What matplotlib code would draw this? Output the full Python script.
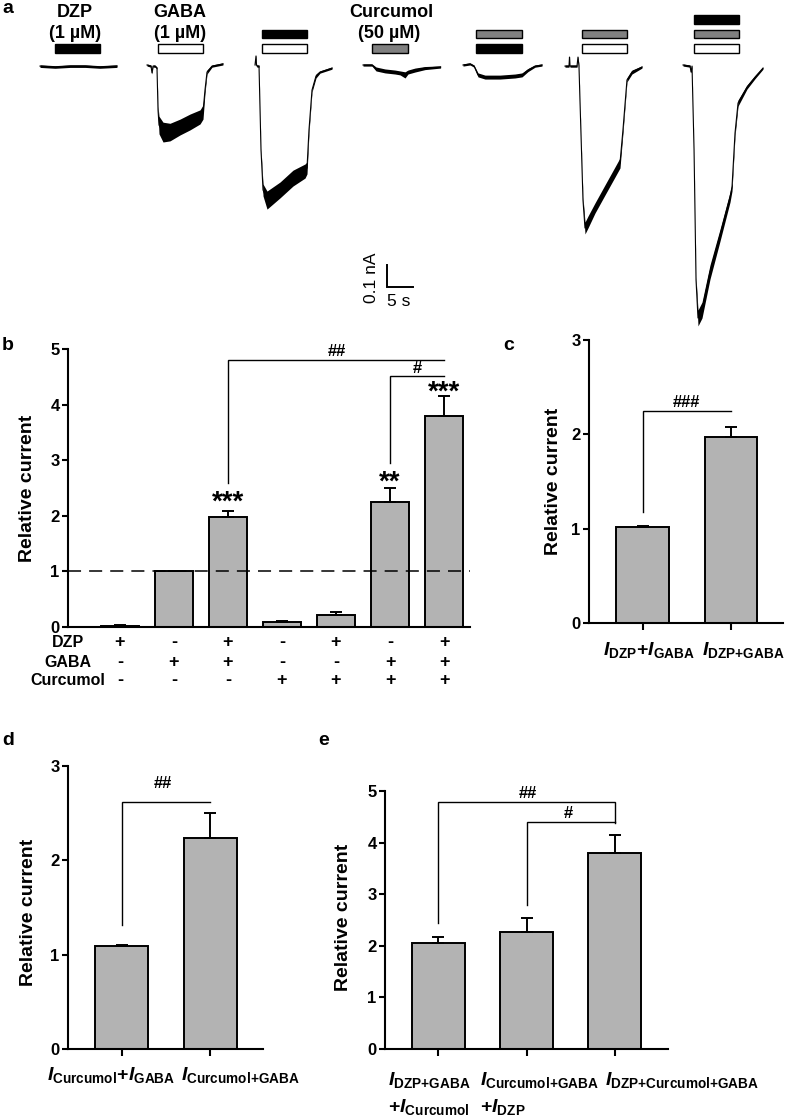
import numpy as np
import matplotlib
matplotlib.use('Agg')
import matplotlib.pyplot as plt
from matplotlib.patches import Rectangle

plt.rcParams['font.family'] = ['Liberation Sans', 'DejaVu Sans']
plt.rcParams['font.weight'] = 'bold'
plt.rcParams['mathtext.fontset'] = 'custom'
plt.rcParams['mathtext.rm'] = 'Liberation Sans:bold'
plt.rcParams['mathtext.it'] = 'Liberation Sans:italic:bold'
plt.rcParams['mathtext.bf'] = 'Liberation Sans:bold'
plt.rcParams['mathtext.sf'] = 'Liberation Sans:bold'
plt.rcParams['lines.scale_dashes'] = False

# ---------------- data ----------------
# Panel a: current traces (time from trace start in s, current in nA, noise half-band in nA)
t_dzp = [0, 2.9, 5.8, 8.7, 11.5, 14.8]
i_dzp = [-0.005, -0.009, -0.005, -0.005, -0.009, -0.005]
n_dzp = [0.006, 0.006, 0.006, 0.006, 0.006, 0.006]

t_gaba = [0, 0.77, 0.96, 1.15, 1.54, 1.92, 2.12, 2.31, 3.08, 4.42, 6.35, 8.27, 10.2, 10.77, 11.15, 11.54, 12.5, 14.6]
i_gaba = [0, -0.005, -0.036, -0.005, -0.005, -0.014, -0.205, -0.273, -0.305, -0.305, -0.282, -0.259, -0.236,
          -0.214, -0.114, -0.032, -0.005, 0.005]
n_gaba = [0.005, 0.005, 0.005, 0.005, 0.005, 0.005, 0.018, 0.04, 0.045, 0.04, 0.036, 0.036, 0.032, 0.032,
          0.014, 0.009, 0.005, 0.005]

t_dzp_gaba = [0, 0.19, 0.29, 0.38, 0.77, 1.15, 1.54, 2.31, 4.81, 7.31, 9.62, 10.0, 10.38, 10.96, 11.73, 12.5, 14.81]
i_dzp_gaba = [0, 0.041, 0, -0.005, -0.005, -0.386, -0.568, -0.614, -0.568, -0.514, -0.482, -0.468, -0.295,
              -0.114, -0.05, -0.032, -0.014]
n_dzp_gaba = [0.005, 0.005, 0.005, 0.005, 0.005, 0.009, 0.027, 0.041, 0.036, 0.036, 0.032, 0.027, 0.014,
              0.009, 0.009, 0.005, 0.005]

t_cur = [0, 1.73, 2.5, 4.23, 6.15, 7.12, 8.08, 8.65, 10.0, 11.92, 14.92]
i_cur = [0, 0, -0.018, -0.027, -0.032, -0.036, -0.045, -0.032, -0.023, -0.014, -0.009]
n_cur = [0.005, 0.005, 0.009, 0.009, 0.009, 0.009, 0.014, 0.009, 0.009, 0.007, 0.005]

t_cur_dzp = [0, 1.35, 2.12, 2.88, 4.23, 7.12, 10.0, 11.35, 12.5, 13.85, 15.19]
i_cur_dzp = [0, 0.005, -0.005, -0.045, -0.055, -0.055, -0.05, -0.045, -0.023, -0.005, 0]
n_cur_dzp = [0.005, 0.005, 0.005, 0.009, 0.009, 0.009, 0.009, 0.009, 0.007, 0.005, 0.005]

t_cur_gaba = [0, 0.77, 0.87, 0.96, 2.31, 2.5, 2.69, 2.88, 3.46, 3.85, 4.42, 5.77, 7.69, 9.62, 10.58, 11.15,
              11.92, 12.88, 14.81]
i_cur_gaba = [-0.005, -0.005, 0.036, -0.005, -0.005, 0.036, -0.005, -0.159, -0.614, -0.741, -0.714, -0.65,
              -0.568, -0.486, -0.445, -0.295, -0.068, -0.032, -0.009]
n_cur_gaba = [0.005, 0.005, 0.005, 0.005, 0.005, 0.005, 0.005, 0.005, 0.014, 0.027, 0.027, 0.023, 0.023,
              0.023, 0.023, 0.014, 0.009, 0.009, 0.005]

t_all = [0, 1.35, 1.54, 1.73, 2.12, 2.5, 2.88, 3.65, 5.19, 7.12, 9.04, 9.42, 10.0, 10.58, 12.31, 13.85, 15.38]
i_all = [0, -0.005, -0.032, -0.005, -0.386, -0.977, -1.15, -1.114, -0.941, -0.773, -0.6, -0.555, -0.309,
         -0.173, -0.1, -0.055, -0.014]
n_all = [0.005, 0.005, 0.005, 0.005, 0.005, 0.014, 0.036, 0.036, 0.032, 0.027, 0.023, 0.018, 0.014, 0.014,
         0.009, 0.007, 0.005]

# drug application per trace: start (s from trace start), duration (s), drugs bottom->top
app_start = [2.9, 2.1, 1.35, 1.7, 2.5, 3.3, 2.1]
app_dur = [8.65, 8.65, 8.65, 7.0, 8.85, 8.65, 8.65]
app_drugs = [['DZP'], ['GABA'], ['GABA', 'DZP'], ['Curcumol'], ['DZP', 'Curcumol'],
             ['GABA', 'Curcumol'], ['GABA', 'Curcumol', 'DZP']]

# Panel b
b_dzp = ['+', '-', '+', '-', '+', '-', '+']
b_gaba = ['-', '+', '+', '-', '-', '+', '+']
b_cur = ['-', '-', '-', '+', '+', '+', '+']
b_mean = [0.02, 1.0, 1.97, 0.09, 0.21, 2.24, 3.80]
b_sem = [0.01, 0.0, 0.11, 0.02, 0.06, 0.26, 0.35]
b_stars = ['', '', '***', '', '', '**', '***']

# Panel c
c_labels = [r'$I_{\mathrm{DZP}}{+}I_{\mathrm{GABA}}$', r'$I_{\mathrm{DZP{+}GABA}}$']
c_mean = [1.02, 1.97]
c_sem = [0.01, 0.11]

# Panel d
d_labels = [r'$I_{\mathrm{Curcumol}}{+}I_{\mathrm{GABA}}$', r'$I_{\mathrm{Curcumol{+}GABA}}$']
d_mean = [1.09, 2.24]
d_sem = [0.01, 0.26]

# Panel e
e_labels_1 = [r'$I_{\mathrm{DZP{+}GABA}}$', r'$I_{\mathrm{Curcumol{+}GABA}}$',
              r'$I_{\mathrm{DZP{+}Curcumol{+}GABA}}$']
e_labels_2 = [r'${+}I_{\mathrm{Curcumol}}$', r'${+}I_{\mathrm{DZP}}$', '']
e_mean = [2.06, 2.26, 3.79]
e_sem = [0.11, 0.27, 0.36]

# ---------------- figure ----------------
W, H = 787, 1120
fig = plt.figure(figsize=(W / 100, H / 100), dpi=100)
BAR_FC = '#b3b3b3'
DRUG_COL = {'DZP': 'black', 'GABA': 'white', 'Curcumol': '#808080'}


def px_axes(left, top, right, bottom):
    return fig.add_axes([left / W, 1 - bottom / H, (right - left) / W, (bottom - top) / H])


def ftext(px, py, s, **kw):
    return fig.text(px / W, 1 - py / H, s, **kw)


# ---------- panel a ----------
PX_PER_S = 5.2
PX_PER_NA = 220.0
BASE_PX = 65
axa = px_axes(0, 0, W, 345)
axa.set_xlim(0, W / PX_PER_S)
axa.set_ylim(-(345 - BASE_PX) / PX_PER_NA, BASE_PX / PX_PER_NA)
axa.axis('off')

traces = [(t_dzp, i_dzp, n_dzp), (t_gaba, i_gaba, n_gaba), (t_dzp_gaba, i_dzp_gaba, n_dzp_gaba),
          (t_cur, i_cur, n_cur), (t_cur_dzp, i_cur_dzp, n_cur_dzp), (t_cur_gaba, i_cur_gaba, n_cur_gaba),
          (t_all, i_all, n_all)]
trace_x0 = [7.69, 28.27, 49.04, 69.81, 89.04, 108.65, 131.35]
row_bottom = 0.0545
row_step = 0.066
row_h = 0.04
for (t, i, n), x0, st, du, drugs in zip(traces, trace_x0, app_start, app_dur, app_drugs):
    t = np.asarray(t) + x0
    i = np.asarray(i)
    n = np.asarray(n)
    axa.fill_between(t, i - n, i + n, color='black', lw=0)
    axa.plot(t, i, color='black', lw=0.8)
    for k, d in enumerate(drugs):
        axa.add_patch(Rectangle((x0 + st, row_bottom + k * row_step), du, row_h,
                                facecolor=DRUG_COL[d], edgecolor='black', lw=1.0))

# scale bar
sb_x, sb_y = 74.4, -1.01
axa.plot([sb_x, sb_x, sb_x + 5], [sb_y + 0.1, sb_y, sb_y], color='black', lw=1.4, solid_joinstyle='miter')
ftext(372, 278, '0.1 nA', rotation=90, ha='center', va='center', fontsize=12.5, fontweight='normal')
ftext(399, 302, '5 s', ha='center', va='center', fontsize=12.5, fontweight='normal')

ftext(75, 17, 'DZP', ha='center', va='baseline', fontsize=13)
ftext(75, 38, '(1 µM)', ha='center', va='baseline', fontsize=13)
ftext(180, 17, 'GABA', ha='center', va='baseline', fontsize=13)
ftext(180, 38, '(1 µM)', ha='center', va='baseline', fontsize=13)
ftext(391, 17, 'Curcumol', ha='center', va='baseline', fontsize=13)
ftext(389, 38, '(50 µM)', ha='center', va='baseline', fontsize=13)

# panel letters
for lab, px, py in [('a', 2, 13), ('b', 2, 350), ('c', 503, 350), ('d', 2, 745), ('e', 318, 745)]:
    ftext(px, py, lab, ha='left', va='baseline', fontsize=14)


def style(ax, ymax, xticks=True):
    for s in ['top', 'right']:
        ax.spines[s].set_visible(False)
    for s in ['left', 'bottom']:
        ax.spines[s].set_linewidth(1.5)
    ax.set_ylim(0, ymax)
    ax.set_yticks(range(ymax + 1))
    ax.tick_params(axis='y', direction='out', length=4, width=1.5, labelsize=12, pad=2)
    ax.tick_params(axis='x', direction='out', length=5 if xticks else 0, width=1.5, labelbottom=False)


def draw_bars(ax, mean, sem, width):
    x = np.arange(len(mean))
    ax.bar(x, mean, width=width, color=BAR_FC, edgecolor='black', linewidth=1.4, zorder=2)
    ax.errorbar(x, mean, yerr=[np.zeros(len(sem)), sem], fmt='none', ecolor='black',
                elinewidth=1.4, capsize=4.3, capthick=1.4, zorder=3)
    ax.set_xticks(x)


def bracket(ax, xs, ys):
    ax.plot(xs, ys, color='black', lw=1.0, solid_joinstyle='miter', zorder=4)


# ---------- panel b ----------
axb = px_axes(68, 349, 470, 627)
draw_bars(axb, b_mean, b_sem, 0.7)
axb.set_xlim(-0.96, 6.48)
style(axb, 5, xticks=False)
axb.axhline(1.0, color='black', lw=1.1, dashes=(9.4, 5.8), zorder=5)
star_y = [0, 0, 2.11, 0, 0, 2.47, 4.09]
for k, s in enumerate(b_stars):
    if s:
        axb.text(k, star_y[k], s, ha='center', va='baseline', fontsize=20)
bracket(axb, [2, 2, 6], [2.59, 4.8, 4.8])
bracket(axb, [5, 5, 6], [2.95, 4.51, 4.51])
axb.text(4.02, 4.87, '##', ha='center', va='baseline', fontsize=12)
axb.text(5.5, 4.56, '#', ha='center', va='baseline', fontsize=12)
trans = axb.get_xaxis_transform()
for row_lab, vals, yf in [('DZP', b_dzp, -0.054), ('GABA', b_gaba, -0.126), ('Curcumol', b_cur, -0.191)]:
    axb.text(0.0, yf, row_lab, transform=axb.transAxes, ha='center', va='center', fontsize=11.5)
    for k, v in enumerate(vals):
        axb.text(k, yf, v, transform=trans, ha='center', va='center', fontsize=13)
ftext(28, 488, 'Relative current', rotation=90, ha='center', va='center', fontsize=14)

# ---------- panel c ----------
axc = px_axes(589, 340, 783, 623)
draw_bars(axc, c_mean, c_sem, 0.6)
axc.set_xlim(-0.61, 1.59)
style(axc, 3)
bracket(axc, [0, 0, 1], [1.18, 2.25, 2.25])
axc.text(0.5, 2.29, '###', ha='center', va='baseline', fontsize=12)
ctr = axc.get_xaxis_transform()
for xc, lab in zip([0.07, 1.14], c_labels):
    axc.text(xc, -0.06, lab, transform=ctr, ha='center', va='top', fontsize=14)
ftext(554, 481, 'Relative current', rotation=90, ha='center', va='center', fontsize=14)

# ---------- panel d ----------
axd = px_axes(68, 766, 263, 1049)
draw_bars(axd, d_mean, d_sem, 0.6)
axd.set_xlim(-0.61, 1.6)
style(axd, 3)
bracket(axd, [0, 0, 1], [1.31, 2.62, 2.62])
axd.text(0.47, 2.77, '##', ha='center', va='baseline', fontsize=12)
dtr = axd.get_xaxis_transform()
for xc, lab in zip([-0.125, 1.35], d_labels):
    axd.text(xc, -0.055, lab, transform=dtr, ha='center', va='top', fontsize=14)
ftext(29, 912, 'Relative current', rotation=90, ha='center', va='center', fontsize=14)

# ---------- panel e ----------
axe = px_axes(385, 791, 668, 1049)
draw_bars(axe, e_mean, e_sem, 0.6)
axe.set_xlim(-0.6, 2.6)
style(axe, 5)
bracket(axe, [0, 0, 2, 2], [2.44, 4.79, 4.79, 4.38])
bracket(axe, [1, 1, 2], [2.79, 4.39, 4.39])
axe.text(1.02, 4.86, '##', ha='center', va='baseline', fontsize=12)
axe.text(1.47, 4.47, '#', ha='center', va='baseline', fontsize=12)
etr = axe.get_xaxis_transform()
for xl, l1, l2 in zip([-0.565, 0.475, 1.887], e_labels_1, e_labels_2):
    axe.text(xl, -0.08, l1, transform=etr, ha='left', va='top', fontsize=14)
    if l2:
        axe.text(xl, -0.185, l2, transform=etr, ha='left', va='top', fontsize=14)
ftext(344, 917, 'Relative current', rotation=90, ha='center', va='center', fontsize=14)

fig.savefig('out.png', dpi=100)
